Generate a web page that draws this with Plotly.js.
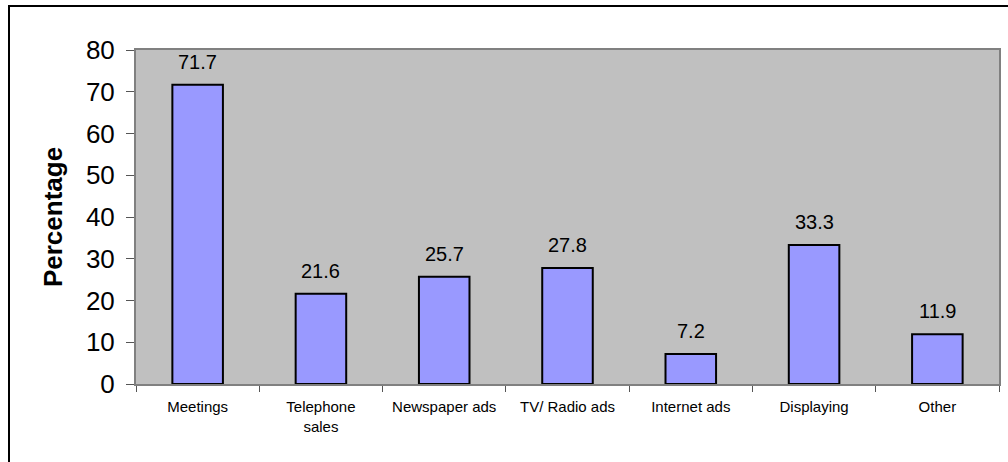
<!DOCTYPE html>
<html>
<head>
<meta charset="utf-8">
<script src="https://cdn.plot.ly/plotly-3.0.1.min.js"></script>
<style>html,body{margin:0;padding:0;background:#fff;}#chart{width:1008px;height:462px;}</style>
</head>
<body>
<div id="chart"></div>
<script>
const categories = ["Meetings", "Telephone<br>sales", "Newspaper ads", "TV/ Radio ads", "Internet ads", "Displaying", "Other"];
const values = [71.7, 21.6, 25.7, 27.8, 7.2, 33.3, 11.9];
const yTickValues = [0, 10, 20, 30, 40, 50, 60, 70, 80];

const W = 1008, H = 462;
const L = 136, R = 9, T = 50, B = 78;
const pw = W - L - R, ph = H - T - B;
function px2x(p) { return (p - L) / pw; }
function py2y(p) { return (H - B - p) / ph; }

const trace = {
  type: 'bar',
  x: categories,
  y: values,
  width: 0.41,
  marker: {color: '#9999FF', line: {color: '#000000', width: 2}},
  hoverinfo: 'x+y'
};

const annotations = categories.map((c, i) => ({
  x: c, y: values[i], xref: 'x', yref: 'y',
  text: values[i].toFixed(1), showarrow: false,
  yanchor: 'bottom', yshift: 10,
  font: {family: 'Liberation Sans, Arial, sans-serif', size: 20, color: '#000'}
}));

const layout = {
  width: W, height: H,
  margin: {l: L, r: R, t: T, b: B, pad: 0},
  paper_bgcolor: '#ffffff',
  plot_bgcolor: '#C0C0C0',
  showlegend: false,
  bargap: 0,
  font: {family: 'Liberation Sans, Arial, sans-serif', color: '#000'},
  xaxis: {
    type: 'category',
    showgrid: false, zeroline: false,
    showline: true, mirror: true, linecolor: '#808080', linewidth: 2,
    ticks: 'outside', tickson: 'boundaries', ticklen: 6, tickcolor: '#555', tickwidth: 1,
    tickfont: {size: 15, color: '#000'},
    ticklabelstandoff: 8
  },
  yaxis: {
    range: [0, 80],
    tickvals: yTickValues,
    ticktext: yTickValues.map(String),
    showgrid: false, zeroline: false,
    showline: true, mirror: true, linecolor: '#808080', linewidth: 2,
    ticks: 'outside', ticklen: 8, tickcolor: '#555', tickwidth: 1,
    tickfont: {size: 26, color: '#000'},
    ticklabelstandoff: 6,
    title: {text: '<b>Percentage</b>', font: {size: 26, color: '#000'}, standoff: 16}
  },
  annotations: annotations,
  shapes: [{
    type: 'rect', xref: 'paper', yref: 'paper', layer: 'below',
    x0: px2x(9), x1: px2x(1020), y0: py2y(480), y1: py2y(6),
    line: {color: '#000', width: 2}, fillcolor: 'rgba(0,0,0,0)'
  }]
};

Plotly.newPlot('chart', [trace], layout, {displayModeBar: false, staticPlot: true});
</script>
</body>
</html>
